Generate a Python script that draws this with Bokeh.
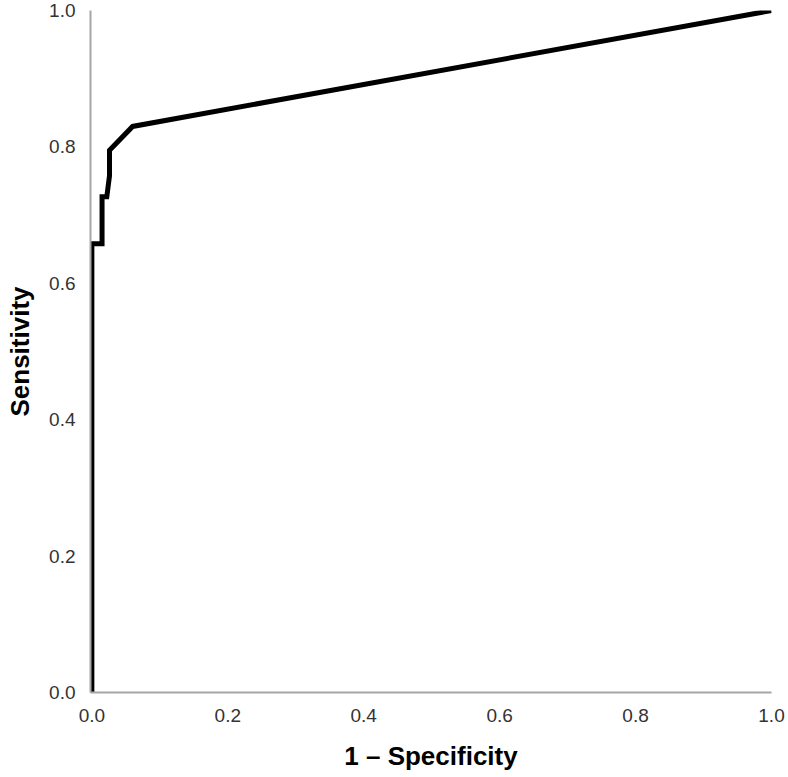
from bokeh.plotting import figure
from bokeh.models import Range1d, FixedTicker, NumeralTickFormatter
from bokeh.embed import file_html
from bokeh.resources import INLINE

# ROC curve points
fpr = [0.0, 0.0, 0.015, 0.015, 0.022, 0.026, 0.026, 0.060, 1.0]
tpr = [0.0, 0.658, 0.658, 0.727, 0.727, 0.758, 0.795, 0.830, 1.0]
ticks = [0.0, 0.2, 0.4, 0.6, 0.8, 1.0]

p = figure(width=788, height=777, output_backend="svg", toolbar_location=None,
           x_range=Range1d(-0.002, 1.0), y_range=Range1d(0.0, 1.0),
           min_border_left=90, min_border_right=17, min_border_top=10, min_border_bottom=85)
p.outline_line_color = None
p.xgrid.visible = False
p.ygrid.visible = False
p.background_fill_color = "white"
p.border_fill_color = "white"

p.line(fpr, tpr, line_color="black", line_width=5, line_join="miter")

for ax in (p.xaxis[0], p.yaxis[0]):
    ax.ticker = FixedTicker(ticks=ticks)
    ax.formatter = NumeralTickFormatter(format="0.0")
    ax.major_tick_line_color = None
    ax.minor_tick_line_color = None
    ax.axis_line_color = "#a6a6a6"
    ax.axis_line_width = 2
    ax.major_label_text_font = "Liberation Sans"
    ax.major_label_text_font_size = "19px"
    ax.major_label_text_color = "#333333"
    ax.axis_label_text_font = "Liberation Sans"
    ax.axis_label_text_font_size = "26px"
    ax.axis_label_text_font_style = "bold"
    ax.axis_label_text_color = "black"

p.xaxis[0].axis_label = "1 – Specificity"
p.yaxis[0].axis_label = "Sensitivity"
p.xaxis[0].major_label_standoff = 10
p.yaxis[0].major_label_standoff = 9
p.xaxis[0].axis_label_standoff = 16
p.yaxis[0].axis_label_standoff = 11

open("out.html", "w").write(file_html(p, INLINE))
